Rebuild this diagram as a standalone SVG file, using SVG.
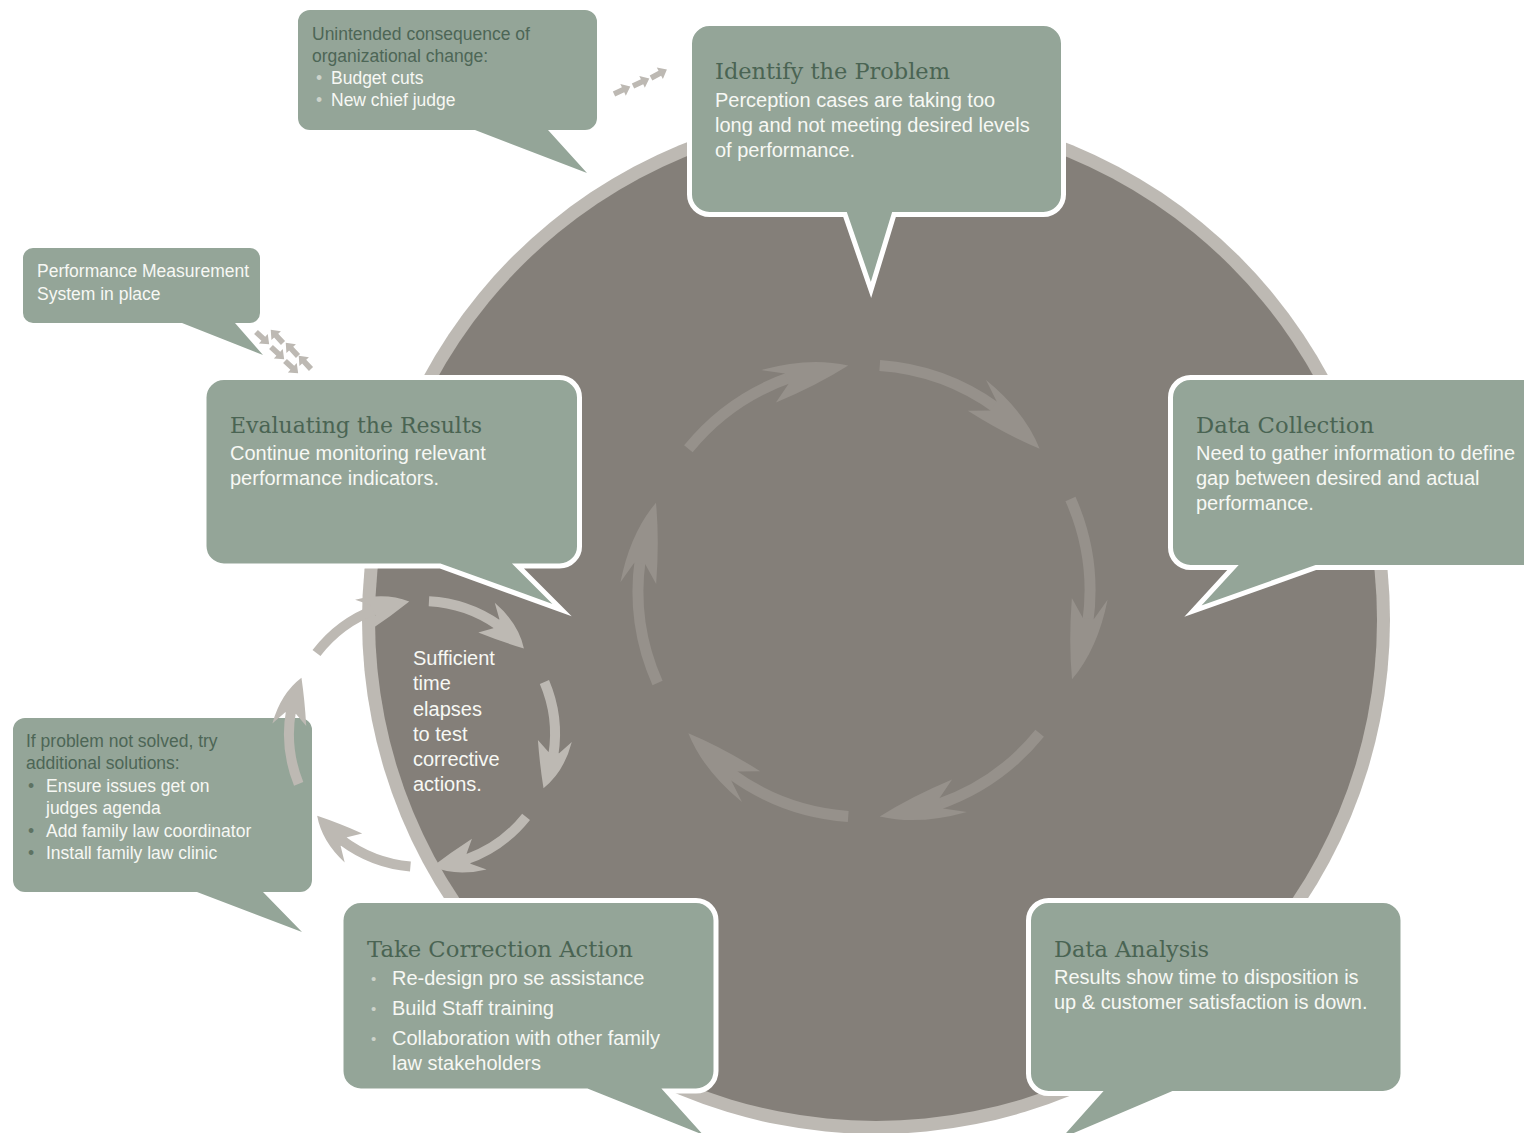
<svg xmlns="http://www.w3.org/2000/svg" xmlns:xlink="http://www.w3.org/1999/xlink" width="1524" height="1133" viewBox="0 0 1524 1133">
<style>
.bubble{fill:#94a598;stroke:#ffffff;stroke-width:5;stroke-linejoin:miter;stroke-miterlimit:10}
.note{fill:#94a598}
.title{font-family:"DejaVu Serif","Liberation Serif",serif;font-size:23px;fill:#4a6453}
.body{font-family:"Liberation Sans",Arial,sans-serif;font-size:20px;fill:#f7f8f4}
.small{font-family:"Liberation Sans",Arial,sans-serif;font-size:17.5px;fill:#f7f8f4}
.dark{fill:#4d6656}
.bul{fill:#cdd3cb}
.buld{fill:#5d7262}
.inner{fill:#96918b}
.innerS{fill:none;stroke:#96918b;stroke-width:11}
.loop{fill:#bdb9b3}
.loopS{fill:none;stroke:#bdb9b3;stroke-width:10}
.mini{fill:#bdb9b3}
</style>
<defs>
<g id="bigArrow">
<path class="innerS" d="M226,0 A226,226 0 0 1 191.6,119.8"/>
<path class="inner" d="M198.4,119.2 L219,107 Q190,148 154.1,165.3 Q166,130 187,91 L189.0,113.6 Z"/>
</g>
<g id="smallArrow">
<path class="loopS" d="M133,0 A133,133 0 0 1 112.8,70.5"/>
<path class="loop" d="M118.7,71.3 L134.8,65.8 Q115.8,90.5 90.7,97.3 Q96.1,75.1 104.3,50.9 L109.3,65.7 Z"/>
</g>
<path id="mini" class="mini" d="M0,-2.8 H10 V-6.5 L18,0 L10,6.5 V2.8 H0 Z"/>
</defs>
<rect width="1524" height="1133" fill="#ffffff"/>
<g id="cycle-disc">
<circle cx="876" cy="620" r="514" fill="#bdb9b3"/>
<circle cx="876" cy="620" r="501" fill="#847f79"/>
</g>
<g id="connectors">
<g id="inner-cycle">
<use xlink:href="#bigArrow" transform="translate(864,591) rotate(-86)"/>
<use xlink:href="#bigArrow" transform="translate(864,591) rotate(-24)"/>
<use xlink:href="#bigArrow" transform="translate(864,591) rotate(39)"/>
<use xlink:href="#bigArrow" transform="translate(864,591) rotate(94)"/>
<use xlink:href="#bigArrow" transform="translate(864,591) rotate(156)"/>
<use xlink:href="#bigArrow" transform="translate(864,591) rotate(219)"/>
</g>
</g>
<g id="node-identify">
<path class="bubble" d="M709.5,23.5 H1043.5 A20,20 0 0 1 1063.5,43.5 V194.5 A20,20 0 0 1 1043.5,214.5 H894 L871,290 L845,214.5 H709.5 A20,20 0 0 1 689.5,194.5 V43.5 A20,20 0 0 1 709.5,23.5 Z"/>
<text class="title" x="715" y="79" textLength="235" lengthAdjust="spacingAndGlyphs">Identify the Problem</text>
<text class="body" x="715" y="107">Perception cases are taking too</text>
<text class="body" x="715" y="132">long and not meeting desired levels</text>
<text class="body" x="715" y="157">of performance.</text>
</g>
<g id="node-collection">
<path class="bubble" d="M1190.5,377.5 H1550 V567.5 H1316 L1193,611 L1233,567.5 H1190.5 A20,20 0 0 1 1170.5,547.5 V397.5 A20,20 0 0 1 1190.5,377.5 Z"/>
<text class="title" x="1196" y="433" textLength="178" lengthAdjust="spacingAndGlyphs">Data Collection</text>
<text class="body" x="1196" y="460">Need to gather information to define</text>
<text class="body" x="1196" y="485">gap between desired and actual</text>
<text class="body" x="1196" y="510">performance.</text>
</g>
<g id="node-analysis">
<path class="bubble" d="M1048.5,900.5 H1383 A20,20 0 0 1 1403,920.5 V1073.5 A20,20 0 0 1 1383,1093.5 H1173 L1052,1145 L1098,1093.5 H1048.5 A20,20 0 0 1 1028.5,1073.5 V920.5 A20,20 0 0 1 1048.5,900.5 Z"/>
<text class="title" x="1054" y="957" textLength="155" lengthAdjust="spacingAndGlyphs">Data Analysis</text>
<text class="body" x="1054" y="984">Results show time to disposition is</text>
<text class="body" x="1054" y="1009">up &amp; customer satisfaction is down.</text>
</g>
<g id="node-correction">
<path class="bubble" d="M361,900.5 H696 A20,20 0 0 1 716,920.5 V1071 A20,20 0 0 1 696,1091 H667 L712,1141 L587,1091 H361 A20,20 0 0 1 341,1071 V920.5 A20,20 0 0 1 361,900.5 Z"/>
<text class="title" x="367" y="957" textLength="266" lengthAdjust="spacingAndGlyphs">Take Correction Action</text>
<text class="body bul" x="371" y="984" style="font-size:15px">•</text>
<text class="body" x="392" y="985">Re-design pro se assistance</text>
<text class="body bul" x="371" y="1014" style="font-size:15px">•</text>
<text class="body" x="392" y="1015">Build Staff training</text>
<text class="body bul" x="371" y="1044" style="font-size:15px">•</text>
<text class="body" x="392" y="1045">Collaboration with other family</text>
<text class="body" x="392" y="1070">law stakeholders</text>
</g>
<g id="node-evaluating">
<path class="bubble" d="M224,377.5 H559.5 A20,20 0 0 1 579.5,397.5 V545 A20,20 0 0 1 559.5,566 H518 L562,610 L440,566 H224 A20,20 0 0 1 204,546 V397.5 A20,20 0 0 1 224,377.5 Z"/>
<text class="title" x="230" y="433" textLength="252" lengthAdjust="spacingAndGlyphs">Evaluating the Results</text>
<text class="body" x="230" y="460">Continue monitoring relevant</text>
<text class="body" x="230" y="485">performance indicators.</text>
</g>
<g id="note-unintended">
<path class="note" d="M310,10 H585 A12,12 0 0 1 597,22 V118 A12,12 0 0 1 585,130 H548 L587,173 L475,130 H310 A12,12 0 0 1 298,118 V22 A12,12 0 0 1 310,10 Z"/>
<text class="small dark" x="312" y="40">Unintended consequence of</text>
<text class="small dark" x="312" y="62">organizational change:</text>
<text class="small bul" x="316" y="84">•</text>
<text class="small" x="331" y="84">Budget cuts</text>
<text class="small bul" x="316" y="106">•</text>
<text class="small" x="331" y="106">New chief judge</text>
</g>
<g id="note-measurement">
<path class="note" d="M33,248 H250 A10,10 0 0 1 260,258 V313 A10,10 0 0 1 250,323 H235 L263,355 L182,323 H33 A10,10 0 0 1 23,313 V258 A10,10 0 0 1 33,248 Z"/>
<text class="small" x="37" y="277">Performance Measurement</text>
<text class="small" x="37" y="300">System in place</text>
</g>
<g id="note-not-solved">
<path class="note" d="M25,718 H300 A12,12 0 0 1 312,730 V880 A12,12 0 0 1 300,892 H263 L302,932 L197,892 H25 A12,12 0 0 1 13,880 V730 A12,12 0 0 1 25,718 Z"/>
<text class="small dark" x="26" y="747">If problem not solved, try</text>
<text class="small dark" x="26" y="769">additional solutions:</text>
<text class="small buld" x="28" y="792">•</text>
<text class="small" x="46" y="792">Ensure issues get on</text>
<text class="small" x="46" y="814">judges agenda</text>
<text class="small buld" x="28" y="837">•</text>
<text class="small" x="46" y="837">Add family law coordinator</text>
<text class="small buld" x="28" y="859">•</text>
<text class="small" x="46" y="859">Install family law clinic</text>
</g>
<g id="node-sufficient-time">
<text class="body" x="413" y="665">Sufficient</text>
<text class="body" x="413" y="690">time</text>
<text class="body" x="413" y="716">elapses</text>
<text class="body" x="413" y="741">to test</text>
<text class="body" x="413" y="766">corrective</text>
<text class="body" x="413" y="791">actions.</text>
</g>
<g id="connectors-outer">
<g id="small-loop">
<use xlink:href="#smallArrow" transform="translate(422,734) rotate(-87)"/>
<use xlink:href="#smallArrow" transform="translate(422,734) rotate(-23)"/>
<use xlink:href="#smallArrow" transform="translate(422,734) rotate(38.5)"/>
<use xlink:href="#smallArrow" transform="translate(422,734) rotate(95)"/>
<use xlink:href="#smallArrow" transform="translate(422,734) rotate(158)"/>
<use xlink:href="#smallArrow" transform="translate(422,734) rotate(217.5)"/>
</g>
<g id="mini-arrows-top">
<use xlink:href="#mini" transform="translate(614,94) rotate(-25)"/>
<use xlink:href="#mini" transform="translate(633,86) rotate(-25)"/>
<use xlink:href="#mini" transform="translate(651,78) rotate(-28)"/>
</g>
<g id="mini-arrows-left">
<use xlink:href="#mini" transform="translate(256,332) rotate(43)"/>
<use xlink:href="#mini" transform="translate(283,343) rotate(-133)"/>
<use xlink:href="#mini" transform="translate(271,347) rotate(43)"/>
<use xlink:href="#mini" transform="translate(298,356) rotate(-133)"/>
<use xlink:href="#mini" transform="translate(285,361) rotate(43)"/>
<use xlink:href="#mini" transform="translate(311,369) rotate(-133)"/>
</g>
</g>
</svg>
